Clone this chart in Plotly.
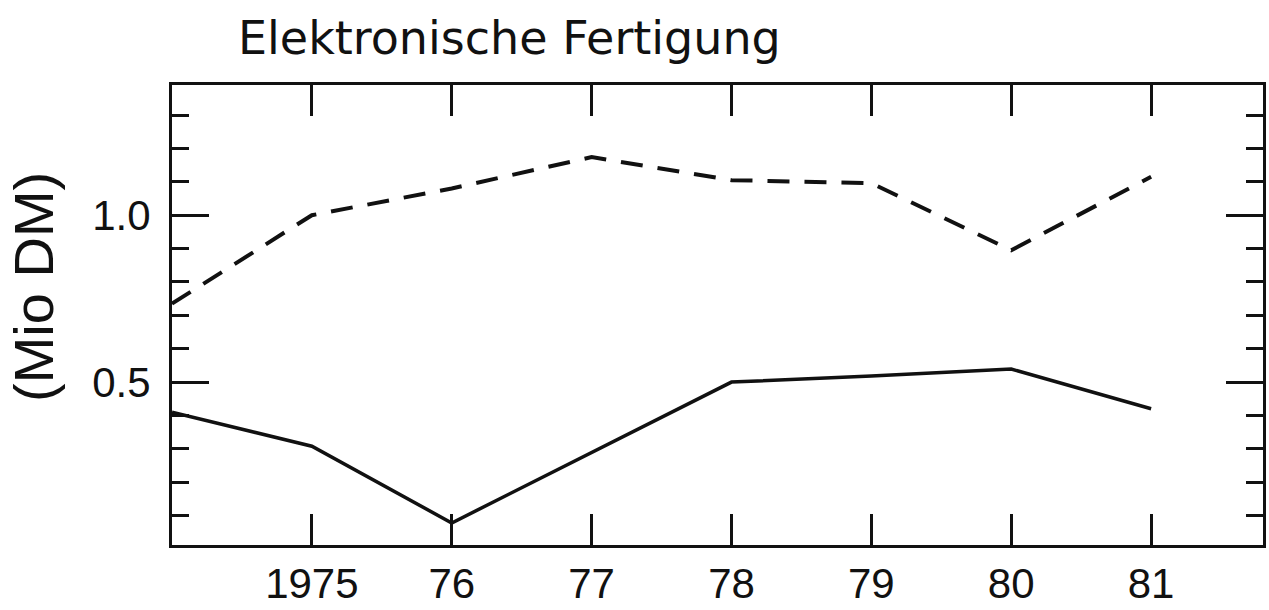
import plotly.graph_objects as go

# Jahre und Werte (Mio DM)
years = [1974, 1975, 1976, 1977, 1978, 1979, 1980, 1981]
dashed_values = [0.735, 1.00, 1.08, 1.174, 1.105, 1.096, 0.895, 1.115]
solid_values = [0.41, 0.308, 0.078, 0.29, 0.50, 0.518, 0.539, 0.42]

x_tickvals = [1975, 1976, 1977, 1978, 1979, 1980, 1981]
x_ticktext = ["1975", "76", "77", "78", "79", "80", "81"]
y_tickvals = [0.5, 1.0]
y_ticktext = ["0.5", "1.0"]

title_text = "Elektronische Fertigung"
y_title = "(Mio DM)"

ink = "#111111"

fig = go.Figure()
fig.add_trace(go.Scatter(
    x=years, y=dashed_values, mode="lines",
    line=dict(color=ink, width=4, dash="22px,15px"),
    showlegend=False, hoverinfo="skip",
))
fig.add_trace(go.Scatter(
    x=years, y=solid_values, mode="lines",
    line=dict(color=ink, width=3.5),
    showlegend=False, hoverinfo="skip",
))

fig.update_layout(
    width=1269, height=610,
    margin=dict(l=172, r=6, t=85, b=65),
    paper_bgcolor="white", plot_bgcolor="white",
    font=dict(family="Liberation Sans, Arial, sans-serif", color=ink),
    xaxis=dict(
        range=[1974.0, 1981.8],
        automargin=False,
        showgrid=False, zeroline=False,
        showline=True, linecolor=ink, linewidth=3, mirror="ticks",
        ticks="inside", ticklen=31, tickwidth=3, tickcolor=ink,
        tickvals=x_tickvals, ticktext=x_ticktext,
        tickfont=dict(size=42, family="Liberation Sans, Arial, sans-serif"),
        ticklabelstandoff=0,
    ),
    yaxis=dict(
        range=[0.012, 1.39],
        automargin=False,
        showgrid=False, zeroline=False,
        showline=True, linecolor=ink, linewidth=3, mirror="ticks",
        ticks="inside", ticklen=37, tickwidth=3, tickcolor=ink,
        tickvals=y_tickvals, ticktext=y_ticktext,
        tickfont=dict(size=42, family="Liberation Sans, Arial, sans-serif"),
        ticklabelstandoff=10,
        minor=dict(ticks="inside", ticklen=17, tickwidth=3, tickcolor=ink,
                   dtick=0.1, tick0=0, showgrid=False),
    ),
    annotations=[
        dict(
            text=title_text, xref="paper", yref="paper",
            x=(236 - 172) / 1091, y=1 + (85 - 38) / 460,
            xanchor="left", yanchor="middle", showarrow=False,
            font=dict(size=46, family="DejaVu Sans, sans-serif", color=ink),
        ),
        dict(
            text=y_title, xref="paper", yref="paper",
            x=(33 - 172) / 1091, y=(545 - 287) / 460,
            xanchor="center", yanchor="middle", showarrow=False,
            textangle=-90,
            font=dict(size=56, family="Liberation Sans, Arial, sans-serif", color=ink),
        ),
    ],
)

fig.write_html("out.html")
